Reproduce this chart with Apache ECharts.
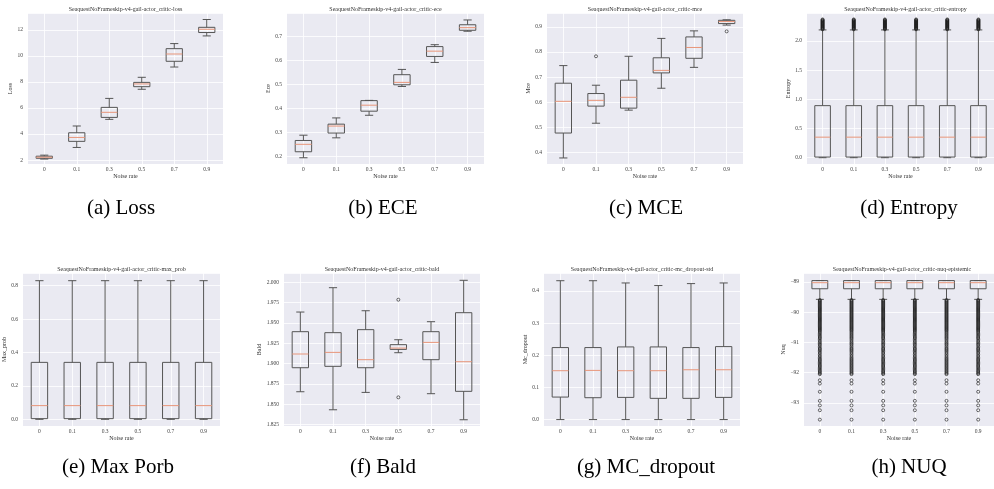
<!DOCTYPE html>
<html><head><meta charset="utf-8">
<script src="https://cdn.jsdelivr.net/npm/echarts@6/dist/echarts.min.js"></script>
<style>html,body{margin:0;padding:0;background:#fff}#c{width:994px;height:489px}</style>
</head><body><div id="c"></div>
<script>
// ---------- data ----------
const categories = ['0', '0.1', '0.3', '0.5', '0.7', '0.9'];
const xAxisName = 'Noise rate';
const titlePrefix = 'SeaquestNoFrameskip-v4-gail-actor_critic-';

// box stats per noise rate: [min, q1, median, q3, max]
const lossStats = [[2.08,2.14,2.22,2.30,2.38],[2.97,3.44,3.74,4.10,4.62],[5.13,5.28,5.67,6.05,6.74],[7.44,7.64,7.85,7.97,8.36],[9.15,9.59,10.15,10.56,10.95],[11.54,11.80,12.05,12.20,12.80]];
const eceStats = [[0.194,0.219,0.250,0.266,0.288],[0.277,0.297,0.326,0.334,0.360],[0.371,0.388,0.413,0.432,0.433],[0.491,0.498,0.508,0.540,0.562],[0.591,0.616,0.638,0.657,0.665],[0.721,0.725,0.736,0.748,0.768]];
const mceStats = [[0.379,0.478,0.604,0.676,0.746],[0.517,0.585,0.608,0.635,0.668],[0.569,0.577,0.620,0.688,0.783],[0.656,0.717,0.727,0.777,0.854],[0.739,0.775,0.818,0.860,0.884],[0.907,0.913,0.921,0.926,0.928]];
const mceOutliers = [[],[0.783],[],[],[],[0.882]];
const entropyStats = [[0.0,0.011,0.352,0.892,2.19],[0.0,0.011,0.352,0.892,2.19],[0.0,0.011,0.352,0.892,2.19],[0.0,0.011,0.352,0.892,2.19],[0.0,0.011,0.352,0.892,2.19],[0.0,0.011,0.352,0.892,2.19]];
const entropyFliers = [2.20,2.21,2.22,2.23,2.24,2.25,2.26,2.27,2.28,2.29,2.30,2.31,2.32,2.33,2.34,2.35,2.36,2.37];
const maxProbStats = [[0.0,0.004,0.082,0.341,0.83],[0.0,0.004,0.082,0.341,0.83],[0.0,0.004,0.082,0.341,0.83],[0.0,0.004,0.082,0.341,0.83],[0.0,0.004,0.082,0.341,0.83],[0.0,0.004,0.082,0.341,0.83]];
const baldStats = [[1.8652,1.8948,1.9117,1.9392,1.9634],[1.8430,1.8965,1.9137,1.9380,1.9934],[1.8644,1.8948,1.9047,1.9417,1.9650],[1.9133,1.9174,1.9190,1.9232,1.9293],[1.8628,1.9047,1.9260,1.9392,1.9515],[1.8307,1.8657,1.9022,1.9626,2.0025]];
const baldOutliers = [[],[],[],[1.9786,1.8583],[],[]];
const mcDropoutStats = [[0.0,0.070,0.152,0.224,0.432],[0.0,0.068,0.153,0.224,0.432],[0.0,0.069,0.152,0.226,0.425],[0.0,0.066,0.152,0.226,0.417],[0.0,0.066,0.155,0.224,0.423],[0.0,0.069,0.155,0.227,0.425]];
const nuqStats = [[-89.58,-89.23,-89.03,-88.96,-88.96],[-89.58,-89.23,-89.03,-88.96,-88.96],[-89.58,-89.23,-89.03,-88.96,-88.96],[-89.58,-89.23,-89.03,-88.96,-88.96],[-89.58,-89.23,-89.03,-88.96,-88.96],[-89.58,-89.23,-89.03,-88.96,-88.96]];
const nuqFliers = [-89.60,-89.63,-89.66,-89.69,-89.72,-89.75,-89.78,-89.81,-89.84,-89.87,-89.90,-89.93,-89.96,-89.99,-90.02,-90.05,-90.08,-90.11,-90.14,-90.17,-90.20,-90.23,-90.26,-90.29,-90.32,-90.35,-90.38,-90.41,-90.44,-90.47,-90.50,-90.53,-90.56,-90.59,-90.62,-90.66,-90.70,-90.74,-90.78,-90.82,-90.86,-90.90,-90.95,-91.00,-91.04,-91.08,-91.13,-91.18,-91.22,-91.26,-91.30,-91.35,-91.40,-91.45,-91.50,-91.54,-91.58,-91.62,-91.66,-91.70,-91.74,-91.78,-91.82,-91.86,-91.90,-91.94,-91.98,-92.02,-92.05,-92.25,-92.36,-92.63,-92.93,-93.08,-93.24,-93.55];

const captions = ['(a) Loss','(b) ECE','(c) MCE','(d) Entropy','(e) Max Porb','(f) Bald','(g) MC_dropout','(h) NUQ'];

// ---------- panels ----------
const panels = [
  {key:'loss', yName:'Loss', stats:lossStats, out:null, min:1.7, max:13.3, step:2, dec:0},
  {key:'ece', yName:'Ece', stats:eceStats, out:null, min:0.168, max:0.797, step:0.1, dec:1},
  {key:'mce', yName:'Mce', stats:mceStats, out:mceOutliers, min:0.355, max:0.955, step:0.1, dec:1},
  {key:'entropy', yName:'Entropy', stats:entropyStats, out:categories.map(()=>entropyFliers), min:-0.108, max:2.48, step:0.5, dec:1},
  {key:'max_prob', yName:'Max_prob', stats:maxProbStats, out:null, min:-0.04, max:0.876, step:0.2, dec:1},
  {key:'bald', yName:'Bald', stats:baldStats, out:baldOutliers, min:1.823, max:2.0115, step:0.025, dec:3},
  {key:'mc_dropout-std', yName:'Mc_dropout', stats:mcDropoutStats, out:null, min:-0.02, max:0.456, step:0.1, dec:1},
  {key:'nuq-epistemic', yName:'Nuq', stats:nuqStats, out:categories.map(()=>nuqFliers), min:-93.76, max:-88.71, step:1, dec:0}
];
// layout (px)
const layout = [
  {left:28, top:13, width:195, height:151, nameGap:12, xGap:9.5},
  {left:287, top:13, width:197, height:151, nameGap:12, xGap:9.5},
  {left:547, top:13, width:196, height:151, nameGap:12, xGap:9.5},
  {left:807, top:13, width:197, height:151, nameGap:12, xGap:9.5},
  {left:23, top:273, width:197, height:153, nameGap:13, xGap:9},
  {left:284, top:273, width:196, height:153, nameGap:19, xGap:9},
  {left:544, top:273, width:196, height:153, nameGap:12, xGap:9},
  {left:804, top:273, width:196, height:153, nameGap:15, xGap:9}
];
const captionPos = [[121,208],[383,208],[646,208],[909,208],[118,467],[383,467],[646,467],[909,467]];

const FONT = 'Liberation Serif';
const BOX = '#555555', MED = '#E8967A', TXT = '#444444';

function renderBox(params, api) {
  const x = api.value(0);
  const p = [1,2,3,4,5].map(k => api.coord([x, api.value(k)]));
  const band = api.size([1, 0])[0];
  const hw = band * 0.25, cw = band * 0.125;
  const cx = p[0][0];
  const ls = {stroke: BOX, lineWidth: 1, fill: 'none'};
  return {type: 'group', children: [
    {type:'line', shape:{x1:cx, y1:p[3][1], x2:cx, y2:p[4][1]}, style:ls},
    {type:'line', shape:{x1:cx, y1:p[1][1], x2:cx, y2:p[0][1]}, style:ls},
    {type:'line', shape:{x1:cx-cw, y1:p[4][1], x2:cx+cw, y2:p[4][1]}, style:ls},
    {type:'line', shape:{x1:cx-cw, y1:p[0][1], x2:cx+cw, y2:p[0][1]}, style:ls},
    {type:'rect', shape:{x:cx-hw, y:p[3][1], width:2*hw, height:p[1][1]-p[3][1]}, style:ls},
    {type:'line', shape:{x1:cx-hw, y1:p[2][1], x2:cx+hw, y2:p[2][1]}, style:{stroke:MED, lineWidth:1}}
  ]};
}

const grid = [], xAxis = [], yAxis = [], series = [], graphic = [];
panels.forEach((pn, i) => {
  const L = layout[i];
  grid.push({left:L.left, top:L.top, width:L.width, height:L.height, show:true, backgroundColor:'#EAEAF2', borderWidth:0, containLabel:false});
  xAxis.push({type:'category', gridIndex:i, data:categories, boundaryGap:true,
    axisLine:{show:false}, axisTick:{show:false},
    axisLabel:{fontFamily:FONT, fontSize:5.5, color:TXT, margin:3, interval:0},
    splitLine:{show:true, alignWithLabel:true, lineStyle:{color:'#ffffff', width:0.8}},
    name:xAxisName, nameLocation:'middle', nameGap:L.xGap, nameTextStyle:{fontFamily:FONT, fontSize:6, color:'#333'}});
  yAxis.push({type:'value', gridIndex:i, min:pn.min, max:pn.max, minInterval:pn.step, maxInterval:pn.step, scale:true,
    axisLine:{show:false}, axisTick:{show:false},
    axisLabel:{fontFamily:FONT, fontSize:5.5, color:TXT, margin:5,
      formatter:(v) => { const k = v / pn.step; if (Math.abs(k - Math.round(k)) > 1e-6) return ''; const s = Math.abs(v).toFixed(pn.dec); return v < -1e-9 ? '\u2212' + s : s; }},
    splitLine:{show:true, lineStyle:{color:'#ffffff', width:0.8}},
    name:pn.yName, nameLocation:'middle', nameGap:L.nameGap, nameRotate:90, nameTextStyle:{fontFamily:FONT, fontSize:6, color:'#333'}});
  series.push({type:'custom', xAxisIndex:i, yAxisIndex:i, renderItem:renderBox, silent:true,
    encode:{x:0, y:[1,2,3,4,5]},
    data: pn.stats.map((s, j) => [j].concat(s))});
  if (pn.out) {
    const pts = [];
    pn.out.forEach((arr, j) => arr.forEach(v => pts.push([j, v])));
    series.push({type:'scatter', xAxisIndex:i, yAxisIndex:i, symbol:'circle', symbolSize:3, silent:true,
      itemStyle:{color:'rgba(0,0,0,0)', borderColor:'#1a1a1a', borderWidth:0.8}, data:pts, z:5});
  }
  graphic.push({type:'text', x:L.left + L.width/2, y:L.top - 4, silent:true,
    style:{text:titlePrefix + pn.key, fontFamily:FONT, fontSize:6, fill:'#333', textAlign:'center', textVerticalAlign:'middle'}});
  graphic.push({type:'text', x:captionPos[i][0], y:captionPos[i][1], silent:true,
    style:{text:captions[i], fontFamily:FONT, fontSize:21, fill:'#000', textAlign:'center', textVerticalAlign:'middle'}});
});

const chart = echarts.init(document.getElementById('c'), null, {renderer:'canvas'});
chart.setOption({animation:false, backgroundColor:'#ffffff', grid, xAxis, yAxis, series, graphic});
</script>
</body></html>
